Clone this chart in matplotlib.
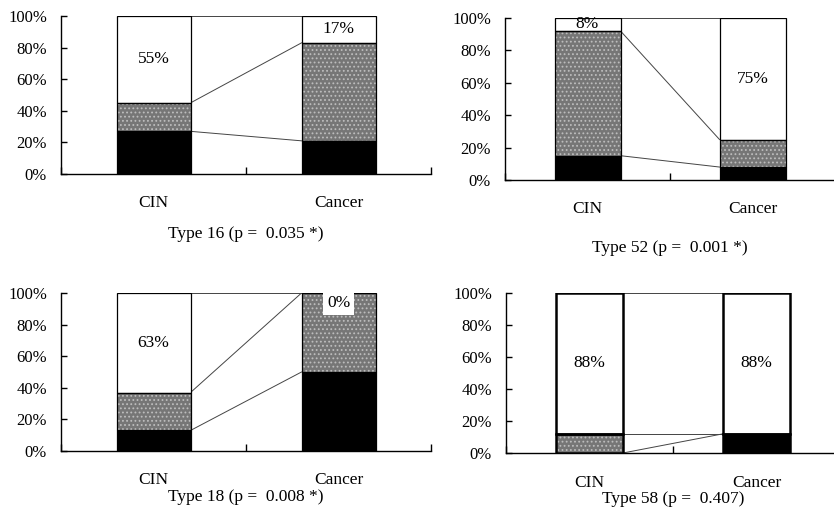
import matplotlib.pyplot as plt
import numpy as np

plt.rcParams['font.family'] = ['Liberation Serif', 'DejaVu Serif']
plt.rcParams['hatch.linewidth'] = 0.8

groups = ["CIN", "Cancer"]
titles = ["Type 16 (p =  0.035 *)", "Type 52 (p =  0.001 *)",
          "Type 18 (p =  0.008 *)", "Type 58 (p =  0.407)"]

# stacked shares per type: bottom (black), middle (dotted grey), top (white)
black_16 = [27, 21]
grey_16 = [18, 62]
white_16 = [55, 17]

black_52 = [15, 8]
grey_52 = [77, 17]
white_52 = [8, 75]

black_18 = [13, 50]
grey_18 = [24, 50]
white_18 = [63, 0]

black_58 = [0, 12]
grey_58 = [12, 0]
white_58 = [88, 88]

yticks = [0, 20, 40, 60, 80, 100]
ytick_labels = ["0%", "20%", "40%", "60%", "80%", "100%"]

W, H = 834, 512
# axes boxes in pixels: left, top (100%), width, bottom (0%)
boxes = [(61, 16, 370, 174), (505, 18, 330, 180),
         (61, 293, 370, 451), (506, 293, 334, 453)]
# offsets (px) below the axis for group labels and titles
label_off = [29, 29, 29, 30]
title_off = [60, 68, 46, 46]
edge_w = [0.9, 0.9, 0.9, 1.8]

data = [(black_16, grey_16, white_16), (black_52, grey_52, white_52),
        (black_18, grey_18, white_18), (black_58, grey_58, white_58)]

fig = plt.figure(figsize=(W / 100, H / 100), dpi=100)

for k, (left, top, width, bottom) in enumerate(boxes):
    ax = fig.add_axes([left / W, (H - bottom) / H, width / W, (bottom - top) / H])
    ax.set_xlim(0, 2)
    ax.set_ylim(0, 100)
    for s in ["top", "right"]:
        ax.spines[s].set_visible(False)
    for s in ["left", "bottom"]:
        ax.spines[s].set_linewidth(1.0)

    blk, gry, wht = [np.array(v, dtype=float) for v in data[k]]
    x = np.array([0.5, 1.5])
    bw = 0.4
    lw = edge_w[k]

    ax.bar(x, blk, bw, color="black", edgecolor="black", linewidth=lw, zorder=3)
    ax.bar(x, gry, bw, bottom=blk, color="#767676", linewidth=0, zorder=3)
    ax.bar(x, gry, bw, bottom=blk, color="none", edgecolor="#bdbdbd",
           hatch="....", linewidth=0, zorder=3)
    ax.bar(x, gry, bw, bottom=blk, color="none", edgecolor="black",
           linewidth=lw, zorder=4)
    ax.bar(x, wht, bw, bottom=blk + gry, color="white", edgecolor="black",
           linewidth=lw, zorder=3)

    # series lines joining the segment tops
    x0, x1 = x[0] + bw / 2, x[1] - bw / 2
    for tops in (blk, blk + gry, blk + gry + wht):
        ax.plot([x0, x1], tops, color="#444444", lw=0.7, zorder=2)

    # percentage of the white segment
    for i in range(2):
        mid = blk[i] + gry[i] + wht[i] / 2
        if wht[i] > 0:
            ax.text(x[i], mid, "%d%%" % wht[i], ha="center", va="center",
                    fontsize=12.5, zorder=5)
        else:
            ax.text(x[i], 99, "%d%%" % wht[i], ha="center", va="top",
                    fontsize=12.5, zorder=5,
                    bbox=dict(facecolor="white", edgecolor="none", pad=3))

    ax.set_yticks(yticks)
    ax.set_yticklabels(ytick_labels)
    ax.tick_params(axis="y", direction="in", length=4, width=1.0, pad=10,
                   labelsize=12)
    ax.set_xticks([0, 1, 2])
    ax.set_xticklabels([])
    ax.tick_params(axis="x", direction="in", length=5, width=1.0)

    for i, g in enumerate(groups):
        ax.annotate(g, (x[i], 0), xycoords=("data", "axes fraction"),
                    xytext=(0, -label_off[k] * 0.72), textcoords="offset points",
                    ha="center", va="center", fontsize=12.5)
    ax.annotate(titles[k], (1, 0), xycoords=("data", "axes fraction"),
                xytext=(0, -title_off[k] * 0.72), textcoords="offset points",
                ha="center", va="center", fontsize=12.5)

fig.savefig("out.png", dpi=100)
